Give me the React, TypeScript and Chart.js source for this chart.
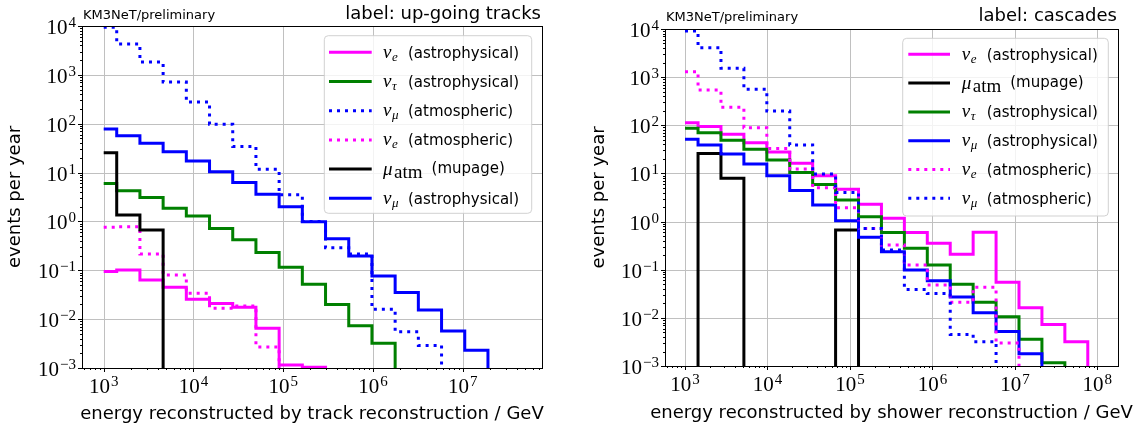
import React, { useEffect, useRef } from 'react';
import { Chart, registerables } from 'chart.js';

Chart.register(...registerables);

// ---------- DATA ----------
// bin edges (GeV)
const trackEdges = [1000, 1396, 2532, 4592, 8327, 15101, 27384, 49659, 90053, 163305, 296140, 537032, 973880, 1766000, 3202500, 5808000, 10532000, 19099000];
const showerEdges = [1000, 1439, 2729, 5176, 9817, 18621, 35318, 66988, 127057, 240991, 457088, 866962, 1644400, 3118900, 5915600, 11220000, 21281000, 40365000, 76560000];

// up-going tracks (events per year per bin)
const trkNueAstro = [0.094, 0.101, 0.063, 0.045, 0.0255, 0.021, 0.0175, 0.0065, 0.00115, 0.00104];
const trkNutauAstro = [6.0, 4.25, 3.1, 1.86, 1.29, 0.72, 0.42, 0.23, 0.115, 0.052, 0.02, 0.0073, 0.0032];
const trkNumuAtm = [9400, 4300, 1830, 715, 278, 97, 34, 11.7, 3.5, 1.0, 0.29, 0.215, 0.016, 0.0055, 0.0029];
const trkNueAtm = [0.76, 0.78, 0.216, 0.08, 0.034, 0.0167, 0.0186, 0.0027];
const trkMuAtm = [25.5, 1.36, 0.67];
const trkNumuAstro = [78, 57, 40, 26.7, 17.3, 10.4, 6.3, 3.6, 2.0, 0.99, 0.44, 0.196, 0.076, 0.035, 0.0154, 0.0057, 0.0023];

// cascades
const shwNueAstro = [113, 94, 65, 43.5, 28, 16.2, 9.0, 4.7, 2.3, 1.17, 0.59, 0.353, 0.21, 0.6, 0.055, 0.0163, 0.0073, 0.0032];
const shwMuAtm = [0, 26, 7.9, 0, 0, 0, 0, 0.67];
const shwNutauAstro = [86.5, 70, 49, 31.6, 19, 10.5, 5.9, 2.8, 1.26, 0.59, 0.278, 0.125, 0.05, 0.021, 0.0106, 0.0036, 0.00117];
const shwNumuAstro = [51, 39, 25.3, 15.7, 9.0, 4.4, 2.2, 1.04, 0.47, 0.237, 0.099, 0.059, 0.027, 0.0128, 0.0052, 0.0018];
const shwNueAtm = [1300, 540, 236, 89, 33, 12.4, 5.05, 1.94, 0.72, 0.326, 0.125, 0.048, 0.021, 0.043, 0.003];
const shwNumuAtm = [9080, 4090, 1525, 558, 198, 39, 9.7, 4.0, 0.72, 0.256, 0.039, 0.032, 0.0045, 0.0032];

const yExpTicks = [-3, -2, -1, 0, 1, 2, 3, 4];
const trackXExpTicks = [3, 4, 5, 6, 7];
const showerXExpTicks = [3, 4, 5, 6, 7, 8];

const MAGENTA = '#ff00ff';
const GREEN = '#008000';
const BLUE = '#0000ff';
const BLACK = '#000000';

type Series = {
  values: number[];
  color: string;
  dotted: boolean;
  sym: string;
  sub: string;
  subUpright?: boolean;
  text: string;
};

const trackSeries: Series[] = [
  { values: trkNueAstro, color: MAGENTA, dotted: false, sym: 'ν', sub: 'e', text: '(astrophysical)' },
  { values: trkNutauAstro, color: GREEN, dotted: false, sym: 'ν', sub: 'τ', text: '(astrophysical)' },
  { values: trkNumuAtm, color: BLUE, dotted: true, sym: 'ν', sub: 'μ', text: '(atmospheric)' },
  { values: trkNueAtm, color: MAGENTA, dotted: true, sym: 'ν', sub: 'e', text: '(atmospheric)' },
  { values: trkMuAtm, color: BLACK, dotted: false, sym: 'μ', sub: 'atm', subUpright: true, text: '(mupage)' },
  { values: trkNumuAstro, color: BLUE, dotted: false, sym: 'ν', sub: 'μ', text: '(astrophysical)' },
];

const showerSeries: Series[] = [
  { values: shwNueAstro, color: MAGENTA, dotted: false, sym: 'ν', sub: 'e', text: '(astrophysical)' },
  { values: shwMuAtm, color: BLACK, dotted: false, sym: 'μ', sub: 'atm', subUpright: true, text: '(mupage)' },
  { values: shwNutauAstro, color: GREEN, dotted: false, sym: 'ν', sub: 'τ', text: '(astrophysical)' },
  { values: shwNumuAstro, color: BLUE, dotted: false, sym: 'ν', sub: 'μ', text: '(astrophysical)' },
  { values: shwNueAtm, color: MAGENTA, dotted: true, sym: 'ν', sub: 'e', text: '(atmospheric)' },
  { values: shwNumuAtm, color: BLUE, dotted: true, sym: 'ν', sub: 'μ', text: '(atmospheric)' },
];

// ---------- RENDERING ----------
const FLOOR = 1e-9;
const SANS = '"DejaVu Sans", sans-serif';
const SERIF = '"Liberation Serif", serif';

function stepPoints(edges: number[], values: number[]) {
  const pts = values.map((v, i) => ({ x: edges[i], y: v > 0 ? v : FLOOR }));
  pts.push({ x: edges[values.length], y: FLOOR });
  return pts;
}

type PanelCfg = {
  left: number;
  width: number;
  edges: number[];
  series: Series[];
  xMin: number;
  xMax: number;
  xTicks: number[];
  area: { left: number; right: number; top: number; bottom: number };
  xlabel: string;
  ylabelX: number;
  xlabelY: number;
  tag: string;
  tagY: number;
  legend: { x: number; y: number; w: number; h: number; row0: number; step: number; s0: number; s1: number; tx: number };
};

function drawPow(ctx: CanvasRenderingContext2D, exp: number, x: number, baseline: number, align: 'right' | 'center') {
  const main = '10';
  const sup = exp < 0 ? '\u2212' + String(-exp) : String(exp);
  ctx.font = `21px ${SERIF}`;
  const w1 = ctx.measureText(main).width;
  ctx.font = `15px ${SERIF}`;
  const w2 = ctx.measureText(sup).width;
  const total = w1 + 1 + w2;
  const l = align === 'right' ? x - total : x - total / 2;
  ctx.textAlign = 'left';
  ctx.textBaseline = 'alphabetic';
  ctx.fillStyle = '#000';
  ctx.font = `21px ${SERIF}`;
  ctx.fillText(main, l, baseline);
  ctx.font = `15px ${SERIF}`;
  ctx.fillText(sup, l + w1 + 1, baseline - 7);
}

function makePlugin(cfg: PanelCfg) {
  return {
    id: 'mplAxes',
    beforeDatasetsDraw(chart: any) {
      const { ctx, chartArea: a, scales } = chart;
      const xs = scales.x;
      const ys = scales.y;
      ctx.save();
      ctx.strokeStyle = '#c0c0c0';
      ctx.lineWidth = 1;
      ctx.beginPath();
      cfg.xTicks.forEach((e) => {
        const px = Math.round(xs.getPixelForValue(Math.pow(10, e))) + 0.5;
        ctx.moveTo(px, a.top);
        ctx.lineTo(px, a.bottom);
      });
      yExpTicks.forEach((e) => {
        const py = Math.round(ys.getPixelForValue(Math.pow(10, e))) + 0.5;
        ctx.moveTo(a.left, py);
        ctx.lineTo(a.right, py);
      });
      ctx.stroke();
      ctx.restore();
    },
    afterDatasetsDraw(chart: any) {
      const { ctx, chartArea: a, scales } = chart;
      const xs = scales.x;
      const ys = scales.y;
      ctx.save();
      // spines
      ctx.strokeStyle = '#000';
      ctx.lineWidth = 1;
      ctx.strokeRect(Math.round(a.left) + 0.5, Math.round(a.top) + 0.5, Math.round(a.right - a.left), Math.round(a.bottom - a.top));
      // ticks
      ctx.beginPath();
      const xLo = Math.floor(Math.log10(cfg.xMin));
      const xHi = Math.ceil(Math.log10(cfg.xMax));
      for (let d = xLo; d <= xHi; d++) {
        for (let m = 1; m <= 9; m++) {
          const v = m * Math.pow(10, d);
          if (v < cfg.xMin || v > cfg.xMax) continue;
          const px = Math.round(xs.getPixelForValue(v)) + 0.5;
          const len = m === 1 ? 4 : 2;
          ctx.moveTo(px, a.bottom);
          ctx.lineTo(px, a.bottom + len);
        }
      }
      for (let d = -3; d <= 4; d++) {
        for (let m = 1; m <= 9; m++) {
          const v = m * Math.pow(10, d);
          if (v < 1e-3 || v > 1e4 * 1.0001) continue;
          const py = Math.round(ys.getPixelForValue(v)) + 0.5;
          const len = m === 1 ? 4 : 2;
          ctx.moveTo(a.left, py);
          ctx.lineTo(a.left - len, py);
        }
      }
      ctx.stroke();
      // tick labels
      yExpTicks.forEach((e) => {
        const py = ys.getPixelForValue(Math.pow(10, e));
        drawPow(ctx, e, a.left - 6, py + 8, 'right');
      });
      cfg.xTicks.forEach((e) => {
        const px = xs.getPixelForValue(Math.pow(10, e));
        drawPow(ctx, e, px, a.bottom + 25, 'center');
      });
      // axis titles
      ctx.fillStyle = '#000';
      ctx.font = `18px ${SANS}`;
      ctx.textAlign = 'center';
      ctx.textBaseline = 'alphabetic';
      ctx.fillText(cfg.xlabel, (a.left + a.right) / 2, cfg.xlabelY);
      ctx.save();
      ctx.translate(cfg.ylabelX, (a.top + a.bottom) / 2);
      ctx.rotate(-Math.PI / 2);
      ctx.fillText('events per year', 0, 0);
      ctx.restore();
      // header texts
      ctx.textAlign = 'left';
      ctx.font = `13px ${SANS}`;
      ctx.fillText('KM3NeT/preliminary', a.left + 1, cfg.tagY);
      ctx.textAlign = 'right';
      ctx.font = `18px ${SANS}`;
      ctx.fillText(cfg.tag, a.right - 1, cfg.tagY);

      // legend
      const L = cfg.legend;
      ctx.beginPath();
      const r = 4;
      ctx.moveTo(L.x + r, L.y);
      ctx.arcTo(L.x + L.w, L.y, L.x + L.w, L.y + L.h, r);
      ctx.arcTo(L.x + L.w, L.y + L.h, L.x, L.y + L.h, r);
      ctx.arcTo(L.x, L.y + L.h, L.x, L.y, r);
      ctx.arcTo(L.x, L.y, L.x + L.w, L.y, r);
      ctx.closePath();
      ctx.fillStyle = 'rgba(255,255,255,0.8)';
      ctx.fill();
      ctx.strokeStyle = 'rgba(204,204,204,0.9)';
      ctx.lineWidth = 1;
      ctx.stroke();
      cfg.series.forEach((s, i) => {
        const ry = L.row0 + L.step * i;
        ctx.save();
        ctx.strokeStyle = s.color;
        ctx.lineWidth = 3;
        ctx.lineCap = 'butt';
        ctx.setLineDash(s.dotted ? [3, 5] : []);
        ctx.beginPath();
        ctx.moveTo(L.s0, ry);
        ctx.lineTo(L.s1, ry);
        ctx.stroke();
        ctx.restore();
        ctx.fillStyle = '#000';
        ctx.textAlign = 'left';
        ctx.textBaseline = 'alphabetic';
        const base = ry + 5.5;
        let tx = L.tx;
        ctx.font = `italic 19px ${SERIF}`;
        ctx.fillText(s.sym, tx, base);
        tx += ctx.measureText(s.sym).width + 0.5;
        if (s.subUpright) {
          ctx.font = `19px ${SERIF}`;
          ctx.fillText(s.sub, tx + 1, base + 3);
          tx += ctx.measureText(s.sub).width + 1;
        } else {
          ctx.font = `italic 13px ${SERIF}`;
          ctx.fillText(s.sub, tx, base + 3);
          tx += ctx.measureText(s.sub).width;
        }
        const restX = s.subUpright ? tx + 9 : L.tx + 25;
        ctx.font = `15px ${SANS}`;
        ctx.fillText(s.text, restX, s.subUpright ? base - 2 : base);
      });
      ctx.restore();
    },
  };
}

function Panel({ cfg }: { cfg: PanelCfg }) {
  const ref = useRef<HTMLCanvasElement>(null);
  useEffect(() => {
    const n = cfg.series.length;
    const datasets = cfg.series.map((s, i) => ({
      label: s.sym + s.sub + ' ' + s.text,
      data: stepPoints(cfg.edges, s.values),
      borderColor: s.color,
      backgroundColor: s.color,
      borderWidth: 3,
      borderDash: s.dotted ? [3, 5] : [],
      borderCapStyle: 'butt' as const,
      borderJoinStyle: 'miter' as const,
      stepped: 'before' as const,
      fill: false,
      pointRadius: 0,
      pointHoverRadius: 0,
      tension: 0,
      clip: 0,
      order: n - i,
    }));
    const chart = new Chart(ref.current as HTMLCanvasElement, {
      type: 'line',
      data: { datasets },
      options: {
        animation: false,
        responsive: false,
        events: [],
        layout: { padding: { left: 0, right: cfg.width - cfg.area.right, top: cfg.area.top, bottom: 0 } },
        plugins: { legend: { display: false }, tooltip: { enabled: false }, title: { display: false } },
        scales: {
          x: {
            type: 'logarithmic',
            position: 'bottom',
            min: cfg.xMin,
            max: cfg.xMax,
            ticks: { display: false },
            grid: { display: false, drawTicks: false },
            border: { display: false },
            afterFit: (s: any) => {
              s.height = 430 - cfg.area.bottom;
            },
          },
          y: {
            type: 'logarithmic',
            position: 'left',
            min: 1e-3,
            max: 1e4,
            ticks: { display: false },
            grid: { display: false, drawTicks: false },
            border: { display: false },
            afterFit: (s: any) => {
              s.width = cfg.area.left;
            },
          },
        },
      } as any,
      plugins: [makePlugin(cfg) as any],
    });
    return () => chart.destroy();
  }, []);
  return (
    <div style={{ position: 'absolute', left: cfg.left, top: 0, width: cfg.width, height: 430 }}>
      <canvas ref={ref} width={cfg.width} height={430} style={{ width: cfg.width, height: 430, display: 'block' }} />
    </div>
  );
}

const leftCfg: PanelCfg = {
  left: 0,
  width: 565,
  edges: trackEdges,
  series: trackSeries,
  xMin: 573,
  xMax: 7.64e7,
  xTicks: trackXExpTicks,
  area: { left: 82, right: 542, top: 26, bottom: 368 },
  xlabel: 'energy reconstructed by track reconstruction / GeV',
  ylabelX: 20,
  xlabelY: 419,
  tag: 'label: up-going tracks',
  tagY: 18.5,
  legend: { x: 324.3, y: 35.7, w: 207.4, h: 177.6, row0: 52.3, step: 29.2, s0: 329, s1: 371.7, tx: 383 },
};

const rightCfg: PanelCfg = {
  left: 565,
  width: 574,
  edges: showerEdges,
  series: showerSeries,
  xMin: 572,
  xMax: 1.78e8,
  xTicks: showerXExpTicks,
  area: { left: 100, right: 553, top: 29, bottom: 366 },
  xlabel: 'energy reconstructed by shower reconstruction / GeV',
  ylabelX: 39,
  xlabelY: 418,
  tag: 'label: cascades',
  tagY: 21,
  legend: { x: 337.7, y: 38.3, w: 205.6, h: 177.7, row0: 54.3, step: 28.8, s0: 343.3, s1: 385, tx: 396.7 },
};

export default function App() {
  return (
    <div style={{ position: 'fixed', left: 0, top: 0, width: 1139, height: 430, background: '#fff', overflow: 'hidden' }}>
      <Panel cfg={leftCfg} />
      <Panel cfg={rightCfg} />
    </div>
  );
}
